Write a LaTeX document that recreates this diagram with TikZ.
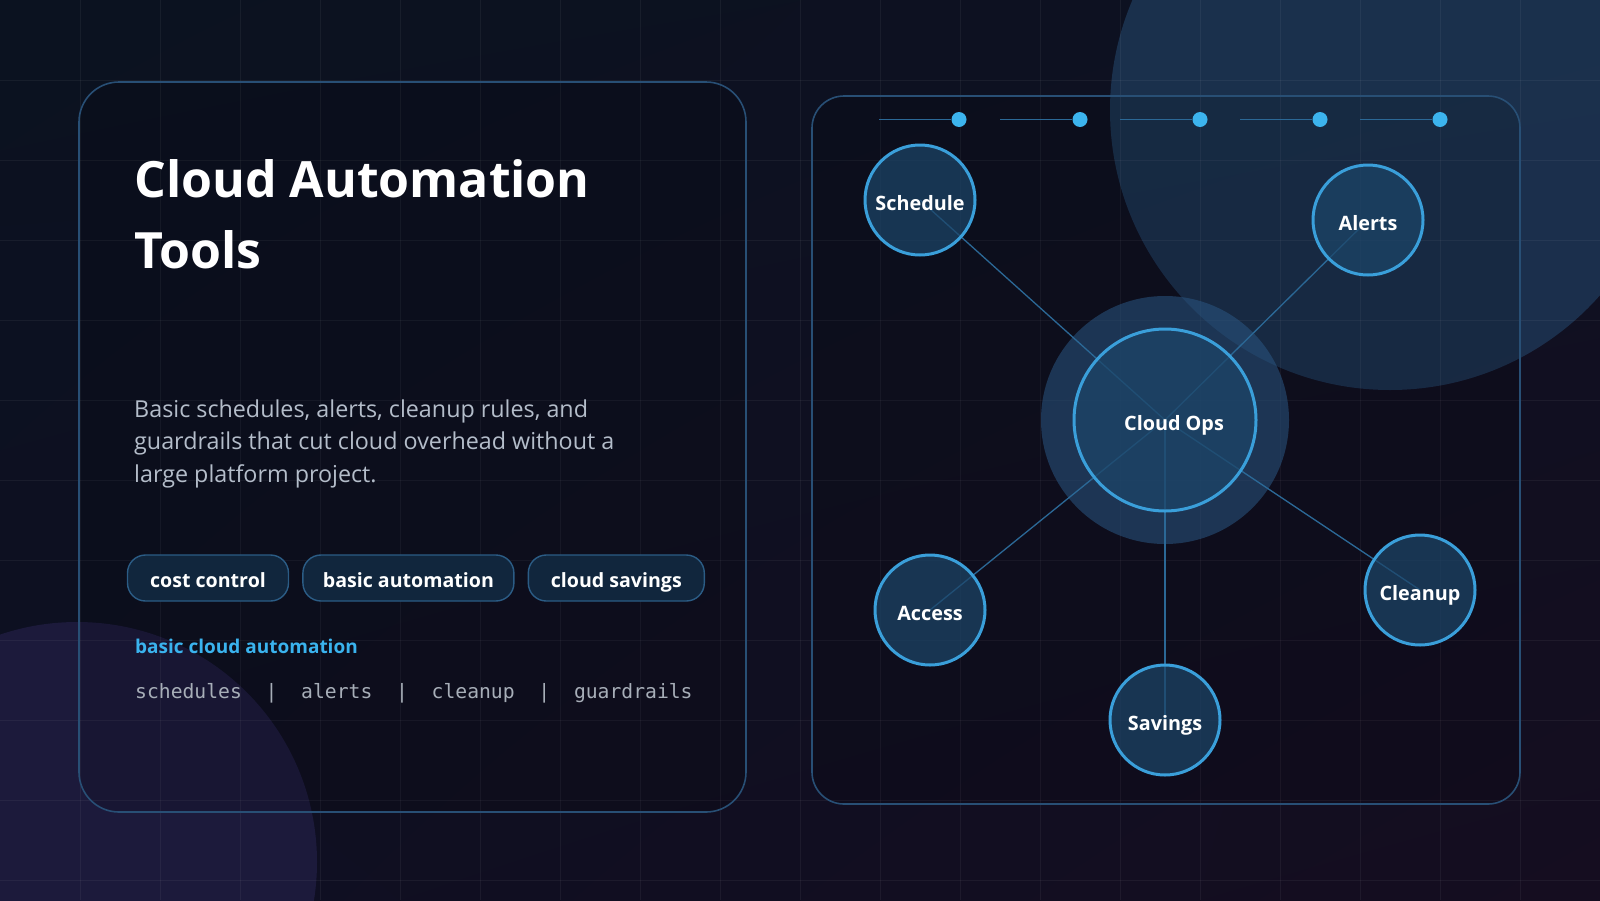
\documentclass[tikz,border=0pt]{standalone}
\usepackage{fontspec}
\setmainfont{Open Sans}
\setmonofont{DejaVu Sans Mono}
\usepackage{tikz}
\usetikzlibrary{positioning,backgrounds,shadings}

\definecolor{bgtl}{HTML}{0B1220}
\definecolor{bgtr}{HTML}{0E1121}
\definecolor{bgbl}{HTML}{0E0F22}
\definecolor{bgbr}{HTML}{150D20}
\definecolor{blobc}{HTML}{1C1A3B}
\definecolor{glowc}{HTML}{2A5682}
\definecolor{cardedge}{HTML}{284F75}
\definecolor{ringc}{HTML}{3A9FDA}
\definecolor{nodefill}{HTML}{1C4568}
\definecolor{dotc}{HTML}{3CB4EE}
\definecolor{linkc}{HTML}{2B6896}
\definecolor{bodyc}{HTML}{B4BDCA}
\definecolor{monoc}{HTML}{A7AEB8}
\definecolor{pillfill}{HTML}{11263D}
\definecolor{pilledge}{HTML}{2B5C85}
\definecolor{accent}{HTML}{3AB3EE}

\pgfdeclarelayer{backdrop}
\pgfsetlayers{backdrop,background,main}

\tikzset{
  card/.style={draw=cardedge, line width=1.6pt, fill=black, fill opacity=0.12},
  title/.style={anchor=base west, inner sep=0pt, text=white,
    font=\fontsize{50}{60}\selectfont\bfseries},
  body/.style={anchor=base west, inner sep=0pt, text=bodyc,
    font=\fontsize{23.3}{28}\selectfont},
  pill/.style={draw=pilledge, line width=1.4pt, fill=pillfill,
    rounded corners=18pt, minimum height=46pt, inner sep=0pt,
    text height=18pt, text depth=0pt,
    text=white, font=\fontsize{19.6}{22}\selectfont\bfseries},
  satnode/.style={circle, draw=ringc, line width=3pt, fill=nodefill,
    fill opacity=0.72, text opacity=1, minimum size=110pt, inner sep=0pt,
    text height=20pt, text depth=0pt,
    text=white, font=\fontsize{19.8}{22}\selectfont\bfseries},
  hub/.style={satnode, minimum size=182pt},
  link/.style={draw=linkc, line width=1.3pt},
  dot/.style={circle, fill=dotc, minimum size=15pt, inner sep=0pt},
}

\begin{document}
\begin{tikzpicture}[x=1pt,y=-1pt]
\useasboundingbox (0,0) rectangle (1600,900);

% backdrop: gradient, grid, soft blobs, the two cards
\begin{pgfonlayer}{backdrop}
\shade[upper left=bgtl, upper right=bgtr, lower left=bgbl, lower right=bgbr]
  (0,0) rectangle (1600,900);
\fill[blobc] (77,862) circle[radius=240pt];
\fill[glowc, opacity=0.45] (1390,110) circle[radius=280pt];
\foreach \gx in {80,160,...,1520}
  \draw[white, opacity=0.05, line width=1pt] (\gx,0) -- (\gx,900);
\foreach \gy in {80,160,...,880}
  \draw[white, opacity=0.05, line width=1pt] (0,\gy) -- (1600,\gy);
\draw[card, rounded corners=40pt] (79,82) rectangle (746,812);
\draw[card, rounded corners=32pt] (812,96) rectangle (1520,804);
\end{pgfonlayer}

% left card text
\node[title] (title1) at (134,197) {Cloud Automation};
\node[title] (title2) at (134,268) {Tools};

\node[body] (body1) at (134,417) {Basic schedules, alerts, cleanup rules, and};
\node[body] (body2) at (134,449) {guardrails that cut cloud overhead without a};
\node[body] (body3) at (134,482) {large platform project.};

\node[pill, minimum width=161pt] (pillcost) at (208,578) {cost control};
\node[pill, minimum width=211pt, right=13pt of pillcost] (pillauto) {basic automation};
\node[pill, minimum width=176pt, right=13pt of pillauto] (pillsave) {cloud savings};

\node[anchor=base west, inner sep=0pt, text=accent,
  font=\fontsize{19}{22}\selectfont\bfseries] (tagline) at (135,653)
  {basic cloud automation};
\node[anchor=base west, inner sep=0pt, text=monoc,
  font=\fontsize{19.7}{22}\selectfont\ttfamily] (keywords) at (135,698)
  {schedules\ \ |\ \ alerts\ \ |\ \ cleanup\ \ |\ \ guardrails};

% right card: hub and satellites
\node[hub] (hub) at (1165,420) {};
\node[inner sep=0pt, text height=20pt, text depth=0pt, text=white,
  font=\fontsize{19.8}{22}\selectfont\bfseries]
  (hublabel) at ([xshift=9pt]hub.center) {Cloud Ops};

\node[satnode] (sched) at (920,200) {Schedule};
\node[satnode] (alerts) at (1368,220) {Alerts};
\node[satnode] (access) at (930,610) {Access};
\node[satnode] (cleanup) at (1420,590) {Cleanup};
\node[satnode] (savings) at (1165,720) {Savings};

\begin{pgfonlayer}{backdrop}
\fill[glowc, opacity=0.55] (hub.center) circle[radius=124pt];
\end{pgfonlayer}

\begin{scope}[on background layer]
\foreach \n in {sched,alerts,access,cleanup,savings}
  \draw[link] (hub.center) -- (\n.center);
\end{scope}

% progress dots along the top
\foreach \i/\dx in {1/959,2/1080,3/1200,4/1320,5/1440} {
  \node[dot] (dot\i) at (\dx,119.5) {};
  \coordinate (tail\i) at (\dx-80,119.5);
  \draw[link] (tail\i) -- (dot\i);
}
\end{tikzpicture}
\end{document}
